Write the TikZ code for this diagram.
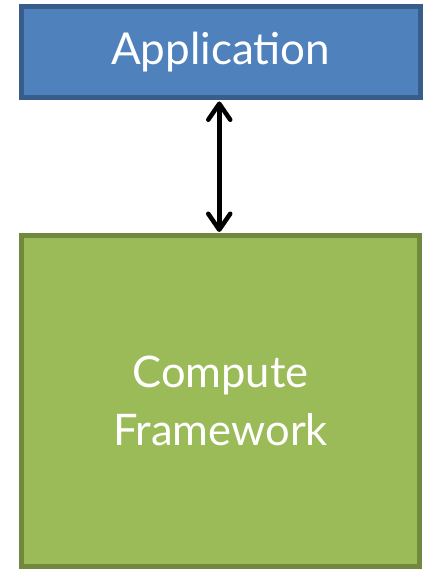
\documentclass[tikz,border=0pt]{standalone}
\usepackage{fontspec}
\setmainfont{Lato}
\usepackage{tikz}
\usetikzlibrary{arrows.meta}
\definecolor{appblue}{HTML}{4F81BD}
\definecolor{appborder}{HTML}{385D8A}
\definecolor{fwgreen}{HTML}{9BBB59}
\definecolor{fwborder}{HTML}{71893F}
\tikzset{
  layer/.style={draw,anchor=north west,line width=5pt,text=white,inner sep=0pt,align=center},
}
\begin{document}
\begin{tikzpicture}[x=1pt,y=1pt]
 \useasboundingbox (0,0) rectangle (424,570);
 \node[layer,fill=appblue,draw=appborder,minimum width=398.5pt,minimum height=91pt,
   font=\fontsize{44}{52}\selectfont] (app) at (19,565.5) {Application};
 \node[layer,fill=fwgreen,draw=fwborder,minimum width=398pt,minimum height=331pt,
   font=\fontsize{43.5}{58}\selectfont] (fw) at (19,337) {Compute\\Framework};

 \draw[line width=4.5pt,{Straight Barb[length=16pt,width=22pt,round]}-{Straight Barb[length=16pt,width=22pt,round]},shorten <=1pt,shorten >=1pt]
   ([xshift=-1.5pt]app.south) -- ([xshift=-1.5pt]app.south |- fw.north);
\end{tikzpicture}
\end{document}
